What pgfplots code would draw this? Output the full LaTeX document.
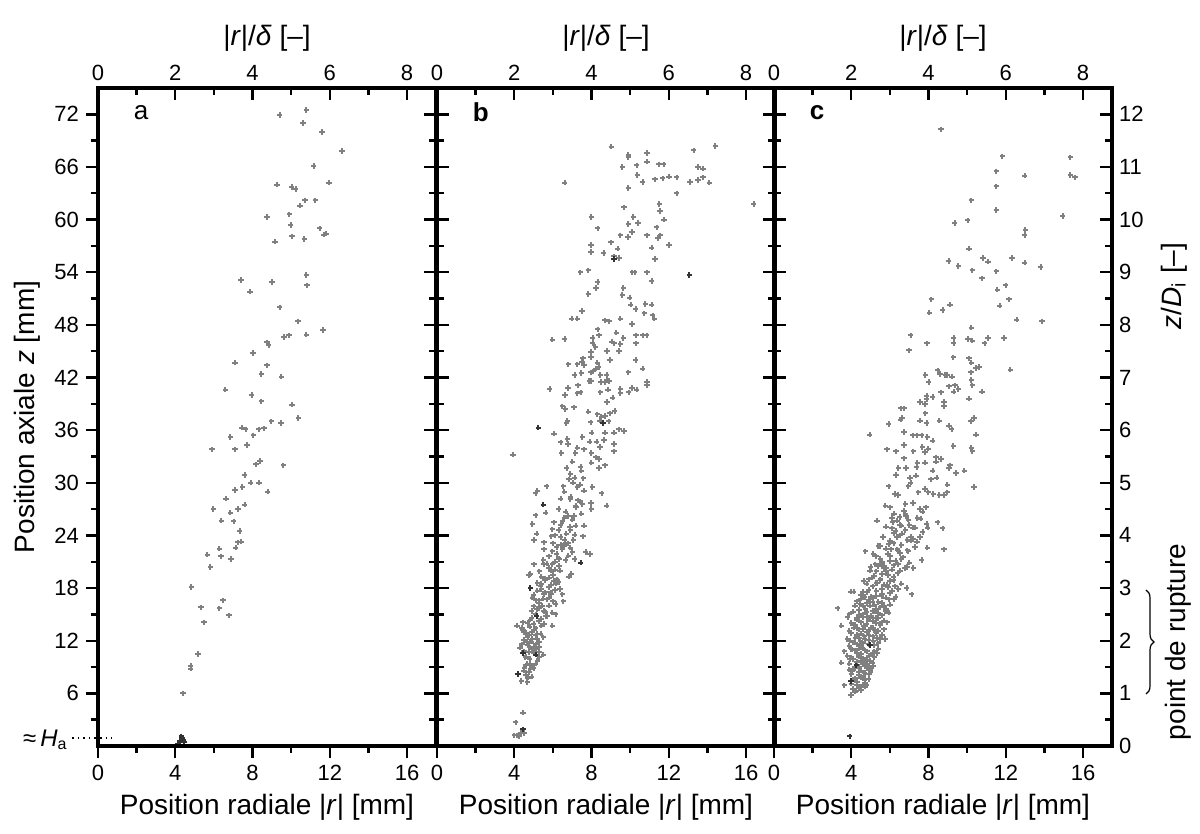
\documentclass[border=0pt]{standalone}
\usepackage{fontspec}
\setmainfont{Liberation Sans}
\usepackage{pgfplots}
\pgfplotsset{compat=1.18}
\usetikzlibrary{decorations.pathreplacing}

\pgfplotsset{
 base/.style={width=169pt,height=329pt,scale only axis,
   xmin=0,xmax=17.5,ymin=0,ymax=75,
   /pgf/number format/assume math mode=true,
   tick label style={font=\fontsize{11}{12}\selectfont},
   label style={font=\fontsize{14}{16}\selectfont},
   major tick length=6pt, minor tick length=3.5pt,
   tick style={line width=1.2pt,black},
   axis line style={line width=1.6pt},
   clip=false,
 },
 panel/.style={base,
   xtick=\empty, minor xtick={},
   ytick={6,12,...,72}, minor ytick={3,9,...,69},
   ytick pos=both, tick align=inside, yticklabels={},
 },
 botax/.style={base, axis x line*=bottom, hide y axis,
   xtick={0,4,8,12,16}, minor xtick={2,6,10,14}, tick align=outside,
   xlabel={Position radiale |\textit{r}| [mm]}},
 topax/.style={base, xmin=0, xmax=8.75, axis x line*=top, hide y axis,
   xtick={0,2,4,6,8}, minor xtick={1,3,5,7}, tick align=inside,
   xlabel={|\textit{r}|/\textit{δ} [–]}},
 pts/.style={only marks, mark=+, mark size=1.35pt, line width=1pt, color=black!50},
 dpts/.style={only marks, mark=+, mark size=1.35pt, line width=1pt, color=black!80},
}

\begin{document}
\begin{tikzpicture}
\useasboundingbox (-49pt,-44pt) rectangle (551pt,373pt);

% ---------------- panel a ----------------
\begin{axis}[panel, ytick pos=right]
\addplot[pts] table {
10.78 72.5
9.40 71.9
10.62 71.0
11.59 70.0
12.64 67.8
11.17 66.1
9.26 64.0
10.03 63.7
10.24 63.5
11.97 64.2
10.71 62.2
11.26 62.2
10.45 61.6
8.76 60.3
9.90 60.6
9.97 59.4
10.05 58.1
10.69 57.8
11.48 59.0
11.69 58.3
11.83 58.4
9.17 57.5
7.40 53.1
7.88 51.8
9.00 52.9
10.79 53.7
10.83 52.5
9.40 50.0
10.36 48.4
11.64 47.4
10.79 46.9
9.62 46.6
9.88 46.8
8.76 46.0
8.84 45.7
8.03 44.8
7.10 43.7
8.76 43.4
8.45 42.4
9.50 42.1
6.60 40.6
7.95 40.0
8.45 39.3
10.05 38.9
10.38 37.4
8.98 37.0
9.47 36.8
7.45 36.3
7.64 36.1
8.31 36.1
8.60 36.2
8.05 35.4
6.86 35.2
7.72 34.3
7.10 33.8
5.90 33.8
8.38 32.5
8.19 32.1
9.59 32.0
7.59 30.9
7.48 29.5
7.91 30.0
8.33 30.0
7.09 29.2
8.78 29.0
6.62 28.2
5.97 27.0
7.59 27.5
7.24 27.0
6.86 26.6
6.38 25.7
7.03 25.6
7.34 24.5
7.24 23.2
7.41 23.3
7.12 22.6
6.28 22.5
5.66 21.8
6.36 21.6
6.88 21.3
5.81 20.4
4.84 18.1
6.47 16.6
6.29 15.7
5.34 15.8
6.79 14.9
5.48 14.1
5.17 10.5
4.79 9.1
4.79 8.8
4.40 6.0
};
\addplot[dpts] table {
4.22 0.58
4.34 0.87
4.45 0.48
4.14 0.24
4.31 1.1
4.40 0.72
};
\node[anchor=west, font=\fontsize{13}{14}\selectfont] at (rel axis cs:0.085,0.963) {a};
\end{axis}
\begin{axis}[base, axis y line*=left, hide x axis, tick align=outside,
  ytick={6,12,...,72}, minor ytick={3,9,...,69},
  ylabel={Position axiale \textit{z} [mm]}]
\end{axis}
\begin{axis}[botax]\end{axis}
\begin{axis}[topax]\end{axis}

% ---------------- panel b ----------------
\begin{axis}[panel, at={(169.5pt,0pt)}]
\addplot[pts] table {
9.03 68.3
9.91 67.4
9.91 67.1
10.88 67.6
10.87 66.6
9.60 66.0
10.33 66.2
11.49 66.3
11.73 66.3
13.29 67.9
14.41 68.4
13.51 66.0
13.77 65.8
10.38 65.1
10.64 64.3
11.28 64.6
11.68 64.7
12.01 64.9
12.41 64.8
13.10 64.3
13.51 64.5
13.77 64.8
14.10 64.2
6.61 64.2
9.91 63.6
12.41 63.0
16.40 61.8
9.69 61.4
11.51 61.8
11.54 61.0
7.99 60.3
10.16 60.3
11.76 60.0
8.32 59.0
9.91 59.5
10.40 59.6
11.37 59.1
10.09 58.6
9.50 58.2
9.88 58.0
10.88 58.2
11.56 58.2
11.44 57.9
9.01 57.4
7.98 57.1
7.98 56.3
8.63 56.2
9.36 56.7
9.17 55.8
9.43 55.6
11.12 56.8
12.01 57.1
11.28 55.5
7.42 54.0
7.84 54.2
10.12 54.0
10.24 54.0
10.88 54.0
11.12 53.0
8.32 52.9
8.24 52.2
7.84 51.5
9.65 52.2
9.60 51.4
9.97 51.1
10.02 50.3
10.29 49.8
10.78 50.4
11.12 50.3
10.73 49.3
11.16 49.1
11.25 48.7
7.51 49.6
6.97 48.7
7.27 48.7
8.69 48.5
8.91 48.4
9.50 48.7
10.09 48.1
8.32 47.5
8.06 46.5
8.39 46.8
9.29 47.1
9.65 46.5
10.31 46.8
10.66 46.8
10.85 46.8
10.31 45.9
5.97 46.3
6.61 46.4
8.06 45.9
8.20 45.5
9.07 46.1
9.17 45.9
9.50 45.8
9.43 45.0
8.81 45.0
7.98 44.9
7.98 44.3
7.56 44.2
7.51 43.8
7.61 43.4
6.80 43.5
7.27 43.5
8.30 43.7
8.37 43.2
8.96 44.0
10.29 44.0
7.98 42.6
8.08 42.7
8.22 43.0
7.13 42.3
7.47 42.5
8.46 42.3
8.79 42.3
8.79 41.7
8.91 41.6
8.70 41.5
7.89 41.6
7.99 41.6
8.48 41.5
9.91 42.6
10.64 43.0
10.88 41.5
10.88 41.1
5.83 40.7
6.78 40.8
7.30 41.1
7.27 40.2
7.44 40.3
6.63 40.0
8.86 40.6
9.50 40.7
9.50 40.2
9.93 40.3
10.10 40.8
10.33 40.6
8.46 40.3
9.10 39.7
8.81 39.2
6.49 38.7
6.64 38.4
7.09 38.6
7.84 38.1
8.30 37.8
8.70 37.6
8.96 37.9
9.19 38.2
8.51 37.5
6.75 37.1
6.70 36.8
8.44 37.1
8.88 37.0
7.96 36.9
6.06 35.6
9.43 36.1
9.69 35.9
9.17 35.7
8.01 35.7
8.70 35.7
3.93 33.2
6.40 34.6
6.75 35.0
6.78 34.4
7.53 35.2
7.91 34.7
8.27 34.7
8.65 34.9
9.17 34.4
9.17 33.6
8.44 34.1
7.27 34.0
7.61 33.8
6.44 33.4
7.16 33.4
7.99 33.4
8.22 32.9
8.39 32.7
7.99 32.3
8.70 32.0
8.39 31.7
7.01 32.4
7.44 31.8
6.71 31.7
7.47 31.4
6.83 30.4
7.13 30.6
7.58 30.5
7.04 30.0
7.27 29.5
6.54 29.6
5.67 29.6
5.19 29.1
5.10 28.8
7.61 29.1
8.04 29.5
8.53 28.8
6.40 28.2
6.92 28.4
7.30 28.0
7.53 27.6
7.98 27.7
7.99 27.0
8.79 27.4
7.18 27.4
5.62 26.6
5.10 26.3
6.66 26.7
6.78 26.2
7.47 26.5
4.93 25.3
6.06 25.5
6.40 25.2
6.89 25.0
7.18 25.1
7.61 25.1
5.97 24.7
5.16 24.2
5.02 23.5
5.54 23.2
5.92 23.9
6.40 23.8
6.61 23.5
6.78 23.1
6.57 22.8
7.06 23.5
7.13 24.1
7.56 23.9
5.54 22.4
5.97 22.2
6.19 21.9
6.49 22.4
7.01 22.1
7.70 22.1
7.92 21.9
7.13 21.3
6.66 21.2
6.31 21.3
6.31 20.5
6.37 20.0
5.97 20.7
5.02 20.7
5.54 20.7
5.67 20.8
4.84 19.6
4.76 19.5
6.83 19.3
6.96 19.6
5.19 18.6
5.57 19.1
5.80 19.2
6.06 18.8
6.14 18.5
5.36 18.2
5.80 18.1
6.37 17.9
6.49 17.3
6.54 16.5
5.88 17.5
5.54 17.3
4.93 16.9
5.71 16.7
5.28 16.3
5.45 16.0
6.14 16.2
5.16 15.6
5.54 15.4
5.97 15.2
6.14 15.0
5.62 14.8
5.28 14.2
4.84 14.4
5.54 13.9
5.97 13.7
4.46 14.1
4.15 13.7
4.41 13.5
4.46 13.2
5.02 13.2
5.19 12.8
5.36 12.8
4.76 12.6
5.50 12.4
4.93 12.2
4.67 11.8
5.10 11.6
5.28 11.8
4.29 11.2
4.84 11.2
5.10 11.0
4.76 10.7
5.50 10.4
4.58 10.1
5.19 9.7
4.67 9.4
4.93 9.1
4.53 8.9
4.84 8.8
4.76 8.4
4.71 7.8
4.36 7.4
4.67 7.3
4.46 3.8
4.07 2.7
4.53 1.5
4.33 1.5
4.15 1.2
4.01 1.2
4.24 1.1
4.6 8.1
4.9 7.9
4.6 9.2
5.0 8.9
4.8 9.9
5.3 10.1
4.5 10.8
4.9 11.0
5.3 10.7
4.7 11.5
5.0 11.3
4.5 12.1
4.9 11.9
5.2 12.2
4.6 12.9
4.9 13.0
4.8 13.6
5.1 13.4
5.4 13.7
4.9 14.6
5.4 14.5
5.7 14.8
5.0 15.9
5.3 15.7
5.8 16.0
5.1 16.6
5.5 16.8
6.0 16.5
5.2 17.7
5.6 17.5
6.1 17.8
5.4 18.5
5.9 18.4
6.3 18.7
5.4 19.3
6.0 19.5
5.8 20.3
6.1 20.1
5.8 21.6
6.3 21.4
6.8 21.7
6.2 22.7
6.9 22.6
6.1 24.0
6.7 24.2
6.6 26.0
7.0 25.8
6.9 28.1
7.4 27.9
4.5 8.6
4.8 9.4
5.1 9.4
4.6 10.2
5.0 10.6
4.4 11.6
4.8 11.9
5.3 11.3
4.7 12.4
5.1 12.6
4.5 13.0
5.0 13.9
5.3 14.3
4.7 14.0
5.1 15.0
5.6 15.3
4.9 15.4
5.3 16.6
5.8 16.9
5.0 17.2
5.4 17.9
5.9 17.3
5.6 18.9
6.2 19.0
5.3 19.9
5.9 20.0
6.1 21.0
5.5 21.2
6.4 22.9
6.0 23.1
6.6 23.0
6.3 24.6
6.9 24.6
6.5 25.6
7.1 26.2
6.3 27.0
7.2 27.2
6.6 29.0
7.4 29.8
6.9 31.0
};
\addplot[dpts] table {
8.60 36.8
5.24 36.3
7.44 20.9
5.50 27.5
4.84 18.0
5.16 14.8
4.46 10.6
5.10 10.4
4.20 8.2
4.46 1.9
13.06 53.7
9.17 55.5
};
\node[anchor=west, font=\bfseries\fontsize{13}{14}\selectfont] at (rel axis cs:0.085,0.963) {b};
\end{axis}
\begin{axis}[botax, at={(169.5pt,0pt)}]\end{axis}
\begin{axis}[topax, at={(169.5pt,0pt)}]\end{axis}

% ---------------- panel c ----------------
\begin{axis}[panel, at={(338pt,0pt)}]
\addplot[pts] table {
8.64 70.3
11.82 67.2
15.34 67.1
11.51 65.5
15.34 65.1
15.58 64.8
12.97 65.0
11.51 63.8
10.21 62.2
11.51 61.1
14.95 60.4
9.36 59.6
10.02 59.9
13.02 58.8
12.97 58.2
10.10 56.7
10.82 55.6
11.08 55.2
12.32 55.6
12.97 55.1
13.80 54.6
9.04 55.3
9.54 54.7
10.27 54.2
11.51 54.1
10.77 53.3
11.99 52.5
11.56 52.0
12.16 50.9
11.68 50.2
8.14 50.9
8.04 49.4
8.73 49.7
9.12 50.3
12.56 48.6
13.88 48.4
10.22 47.7
7.08 46.8
6.99 45.1
7.92 45.9
9.30 46.5
9.30 45.9
10.05 46.4
10.27 46.2
10.91 45.9
11.08 46.5
11.91 46.5
9.28 44.3
10.10 44.2
10.21 43.7
10.45 43.1
10.62 43.2
12.23 42.9
8.47 42.8
8.59 42.4
8.87 42.3
8.95 42.3
9.21 42.1
7.84 42.3
8.01 41.5
10.19 42.6
10.21 41.7
10.27 41.1
9.07 41.0
9.38 41.1
9.55 40.7
9.30 40.4
10.77 40.4
8.64 40.3
8.21 39.8
7.90 39.9
7.90 39.5
7.56 39.2
7.82 39.0
8.80 39.2
8.80 38.7
10.10 39.6
6.58 38.5
6.75 38.5
7.84 37.9
6.62 37.4
10.36 37.4
5.93 36.7
6.56 37.2
7.56 37.1
7.90 36.8
8.56 37.1
9.07 36.5
9.19 36.1
10.19 37.0
4.95 35.5
6.74 35.8
7.18 35.4
7.42 35.4
7.65 35.4
7.94 35.2
8.21 34.8
10.45 35.5
5.84 33.8
6.32 33.6
6.74 34.3
7.22 33.6
7.68 34.1
7.99 33.9
7.82 33.5
9.28 34.2
10.22 34.0
10.27 33.6
6.74 32.8
7.42 32.3
7.39 31.8
7.82 32.3
8.38 32.9
8.38 32.4
8.64 32.7
9.11 32.0
9.07 31.7
6.44 31.7
6.84 31.7
8.21 31.4
9.85 31.4
9.42 31.1
6.32 30.9
7.04 30.6
7.35 30.8
8.13 30.4
8.42 30.6
5.93 29.6
6.96 29.6
7.08 30.0
8.97 29.8
10.36 29.5
6.27 28.7
6.44 28.6
7.47 28.9
7.82 29.3
7.99 28.9
8.25 28.7
8.56 28.6
8.80 28.6
8.97 28.9
5.76 27.4
6.01 27.2
7.56 27.0
7.87 27.2
7.70 26.7
6.22 26.5
6.74 26.8
6.84 26.2
5.33 25.7
6.15 25.5
6.36 25.7
6.53 25.2
6.96 25.8
7.18 24.9
7.42 26.0
7.90 25.3
7.96 24.9
8.47 25.5
8.73 24.8
5.64 23.8
6.19 24.3
6.36 23.8
6.62 24.2
7.08 23.4
7.22 23.6
7.56 23.8
7.94 22.6
8.80 22.4
4.73 22.2
5.15 21.9
5.41 22.8
5.93 23.0
6.05 22.4
6.39 22.4
6.53 22.0
6.96 22.2
7.65 21.2
4.98 20.0
5.24 20.7
5.50 21.3
5.67 20.3
6.01 21.1
6.10 20.1
6.44 20.7
6.53 20.0
6.79 20.3
7.22 20.3
4.64 18.8
5.07 19.2
5.33 18.6
5.50 19.0
5.84 18.4
6.01 18.8
6.27 18.2
6.44 17.9
6.87 18.0
7.13 17.3
3.99 17.6
4.12 17.6
4.50 17.2
4.81 17.5
5.15 16.9
5.58 17.1
5.93 16.7
6.19 16.7
3.30 15.7
4.47 16.2
4.73 15.6
4.98 16.0
5.24 15.4
5.50 15.8
5.76 15.4
5.93 15.2
3.81 14.7
4.30 14.6
4.60 14.7
4.90 14.4
5.15 14.6
5.41 14.6
5.67 14.3
5.84 14.1
3.49 13.7
4.12 13.5
4.38 13.3
4.64 13.7
4.90 13.1
5.15 13.5
5.41 13.1
5.58 12.7
5.76 12.2
3.95 12.0
4.21 12.3
4.47 12.0
4.67 12.5
5.15 12.0
5.33 12.3
3.64 10.8
4.04 11.0
4.30 10.6
4.55 11.2
4.81 10.8
5.07 10.4
5.33 10.6
3.49 9.5
3.92 9.9
4.50 9.7
4.73 9.3
4.98 9.7
5.15 9.1
4.04 8.5
4.38 8.4
4.64 8.0
4.90 8.2
3.64 6.9
4.30 7.0
4.50 6.7
4.73 7.2
4.26 6.3
3.99 5.8
4.1 6.5
4.4 6.6
4.0 7.1
4.6 7.0
4.8 6.9
4.2 7.7
4.5 7.8
4.9 7.6
3.9 8.7
4.1 8.8
4.5 8.6
4.8 8.9
5.0 8.7
4.4 9.0
4.9 9.1
4.1 9.9
4.6 10.0
4.8 9.8
5.2 10.1
3.8 10.3
4.4 10.2
5.0 10.4
4.0 11.0
4.4 11.1
4.7 10.9
5.4 11.1
4.3 11.6
4.6 11.7
5.2 11.5
3.8 12.2
4.4 12.3
4.9 12.1
5.5 12.2
4.0 12.9
4.5 12.8
4.8 13.0
5.3 12.9
4.3 13.4
5.0 13.5
5.7 13.3
4.0 14.0
4.5 14.1
4.8 13.9
5.3 14.0
5.6 14.1
4.4 14.9
4.6 15.0
5.0 14.8
5.6 14.9
4.1 15.3
5.1 15.4
5.4 15.2
4.6 16.0
5.2 16.1
5.7 15.9
6.0 16.1
4.3 16.5
4.9 16.6
5.4 16.4
4.7 17.0
5.3 17.1
5.8 16.9
6.3 17.0
4.9 17.8
5.6 17.9
6.1 17.7
4.8 18.5
5.3 18.6
5.7 18.4
6.6 18.5
5.2 19.4
5.9 19.5
6.2 19.3
5.0 20.4
5.4 20.5
5.8 20.3
6.9 20.4
5.6 21.0
6.3 21.1
7.0 20.9
5.3 21.6
6.0 21.7
6.7 21.5
5.5 22.8
6.6 22.9
7.3 22.7
6.0 23.4
6.9 23.5
7.4 23.3
6.3 24.5
6.8 24.6
7.7 24.4
5.8 25.0
6.6 25.1
7.3 24.9
6.1 26.0
6.5 26.1
7.6 25.9
6.8 27.6
7.2 27.7
4.2 6.2
4.5 6.4
4.7 6.8
4.3 7.3
4.1 7.6
4.7 7.5
4.4 8.1
4.0 8.2
4.7 8.3
5.0 8.4
4.2 8.9
4.6 9.3
5.1 9.5
3.9 9.4
4.3 9.6
4.7 9.7
4.0 10.1
4.5 10.5
4.9 10.3
5.2 10.8
4.2 10.9
3.9 11.4
4.5 11.4
4.9 11.6
5.4 11.7
4.1 11.8
4.7 12.2
5.1 12.5
4.3 12.7
4.9 12.6
5.6 12.6
3.9 13.1
4.6 13.3
5.2 13.2
4.2 13.8
4.7 13.7
5.1 14.2
5.5 13.8
4.3 14.4
4.8 14.7
5.3 14.6
3.9 15.0
4.4 15.5
4.8 15.3
5.3 15.6
5.8 15.6
4.2 16.0
4.8 16.3
5.1 16.4
5.6 16.3
4.5 16.8
5.0 17.0
5.6 17.3
6.0 17.4
4.6 17.6
5.3 17.7
5.9 18.1
5.1 18.2
5.5 18.9
6.2 18.9
4.9 19.0
5.6 19.6
6.4 19.7
5.3 19.9
5.8 19.9
6.2 20.6
5.6 20.7
6.6 21.3
5.9 21.9
6.4 22.3
5.8 22.5
6.9 22.3
6.2 23.1
7.1 23.8
6.5 24.0
6.1 24.8
7.0 25.2
6.8 26.4
};
\addplot[dpts] table {
4.98 11.5
4.26 9.2
3.99 7.4
3.92 1.1
};
\node[anchor=west, font=\bfseries\fontsize{13}{14}\selectfont] at (rel axis cs:0.085,0.963) {c};
\end{axis}
\begin{axis}[botax, at={(338pt,0pt)}]\end{axis}
\begin{axis}[topax, at={(338pt,0pt)}]\end{axis}
\begin{axis}[base, at={(338pt,0pt)}, ymin=0, ymax=12.5, axis y line*=right, hide x axis,
  ytick={0,1,...,12}, minor ytick={0.5,1.5,...,11.5}, tick align=inside]
\end{axis}

% ---------------- annotations ----------------
\draw[dotted, line width=0.8pt] (-13pt,4pt) -- (7pt,4pt);
\node[anchor=east, inner sep=0pt, font=\fontsize{12}{13}\selectfont] at (-15pt,3pt) {≈\,\textit{H}\textsubscript{a}};
\node[rotate=90, font=\fontsize{14}{16}\selectfont] at (538pt,230pt) {\textit{z}/\textit{D}\textsubscript{i} [–]};
\node[rotate=90, font=\fontsize{14}{16}\selectfont] at (540pt,52pt) {point de rupture};
\draw[decorate, decoration={brace, amplitude=4pt}, line width=0.6pt] (524pt,78pt) -- (524pt,26pt);
\end{tikzpicture}
\end{document}
